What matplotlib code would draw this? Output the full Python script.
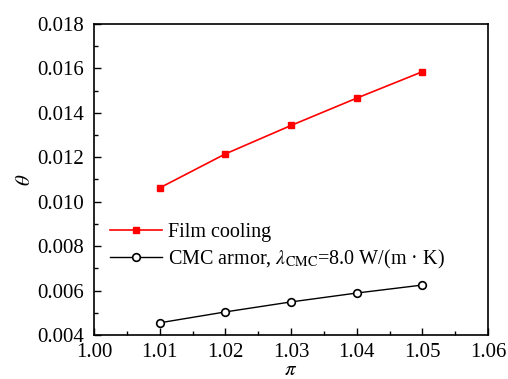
import matplotlib
matplotlib.use("Agg")
import matplotlib.pyplot as plt
from matplotlib.ticker import MultipleLocator, FormatStrFormatter

plt.rcParams['font.family'] = ['Liberation Serif', 'DejaVu Serif']
plt.rcParams['mathtext.fontset'] = 'stix'

pi_vals = [1.01, 1.02, 1.03, 1.04, 1.05]
film_cooling = [0.01062, 0.01215, 0.01343, 0.01466, 0.01585]
cmc_armor = [0.00455, 0.00504, 0.00549, 0.00589, 0.00625]

fig = plt.figure(figsize=(5.08, 3.79), dpi=100)
ax = fig.add_axes([0.185, 0.116, 0.776, 0.821])

ax.plot(pi_vals, film_cooling, color='#ff0000', lw=1.2, marker='s', ms=5,
        mfc='#ff0000', mec='#ff0000', label='Film cooling')
ax.plot(pi_vals, cmc_armor, color='black', lw=1.0, marker='o', ms=5.5,
        mfc='white', mec='black', mew=1.2,
        label=r'CMC armor, $\mathit{\lambda}_{\mathrm{CMC}}$=8.0 W/(m · K)')

ax.set_xlim(1.00, 1.06)
ax.set_ylim(0.004, 0.018)
ax.xaxis.set_major_locator(MultipleLocator(0.01))
ax.xaxis.set_minor_locator(MultipleLocator(0.005))
ax.yaxis.set_major_locator(MultipleLocator(0.002))
ax.yaxis.set_minor_locator(MultipleLocator(0.001))
ax.xaxis.set_major_formatter(FormatStrFormatter('%.2f'))
ax.yaxis.set_major_formatter(FormatStrFormatter('%.3f'))
ax.tick_params(which='both', direction='in', top=False, right=False, labelsize=15)
ax.tick_params(axis='x', which='major', pad=6)
ax.tick_params(axis='y', which='major', pad=7)
ax.tick_params(which='major', length=5, width=1)
ax.tick_params(which='minor', length=3, width=1)
for s in ax.spines.values():
    s.set_linewidth(1.2)

ax.set_xlabel(r'$\mathit{\pi}$', fontsize=15, labelpad=-1)
ax.set_ylabel(r'$\mathit{\theta}$', fontsize=15, labelpad=2)

ax.legend(loc='center left', bbox_to_anchor=(0.02, 0.283), frameon=False, fontsize=14.5,
          handlelength=2.6, handletextpad=0.3, labelspacing=0.25, borderaxespad=0.0)

fig.savefig('out.png', dpi=100)
